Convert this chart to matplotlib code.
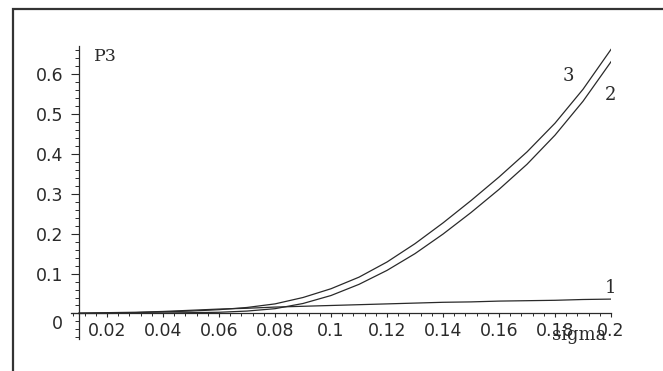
import numpy as np
import matplotlib
matplotlib.use("Agg")
from matplotlib import pyplot as plt
from matplotlib.patches import Rectangle
from matplotlib.ticker import MultipleLocator
from matplotlib.transforms import ScaledTranslation

sigma = [0.01, 0.02, 0.03, 0.04, 0.05, 0.06, 0.07, 0.08, 0.09, 0.10,
         0.11, 0.12, 0.13, 0.14, 0.15, 0.16, 0.17, 0.18, 0.19, 0.20]
p3_1 = [0.001, 0.002, 0.003, 0.005, 0.008, 0.011, 0.013, 0.016, 0.018, 0.020,
        0.022, 0.024, 0.026, 0.028, 0.029, 0.031, 0.032, 0.033, 0.035, 0.036]
p3_2 = [0.000, 0.000, 0.0005, 0.001, 0.002, 0.003, 0.006, 0.012, 0.025, 0.045,
        0.073, 0.108, 0.150, 0.199, 0.253, 0.311, 0.374, 0.447, 0.532, 0.631]
p3_3 = [0.000, 0.001, 0.002, 0.004, 0.006, 0.0095, 0.015, 0.024, 0.040, 0.062,
        0.091, 0.129, 0.175, 0.227, 0.283, 0.342, 0.405, 0.477, 0.562, 0.662]

curve_labels = ["1", "2", "3"]
x_ticks = [0.02, 0.04, 0.06, 0.08, 0.1, 0.12, 0.14, 0.16, 0.18, 0.2]
x_tick_labels = ["0.02", "0.04", "0.06", "0.08", "0.1", "0.12", "0.14", "0.16", "0.18", "0.2"]
y_ticks = [0, 0.1, 0.2, 0.3, 0.4, 0.5, 0.6]
y_tick_labels = ["0", "0.1", "0.2", "0.3", "0.4", "0.5", "0.6"]

ink = "#2a2a2a"
serif = "DejaVu Serif"

fig = plt.figure(figsize=(6.63, 3.71), dpi=100)
fig.patch.set_facecolor("white")
# scanned page frame (only top and left edges visible)
fig.patches.append(Rectangle((0.0196, -0.05), 1.1, 0.9757 + 0.05, transform=fig.transFigure,
                             fill=False, edgecolor="#333333", linewidth=1.6))

ax = fig.add_axes([0.1065, 0.0852, 0.8151, 0.7903])
ax.set_facecolor("none")

for y in (p3_1, p3_2, p3_3):
    ax.plot(sigma, y, color=ink, linewidth=0.9)

ax.set_xlim(0.007, 0.2)
ax.set_ylim(-0.065, 0.67)

ax.spines["left"].set_position(("data", 0.01))
ax.spines["bottom"].set_position(("data", 0))
ax.spines["top"].set_visible(False)
ax.spines["right"].set_visible(False)
for s in ("left", "bottom"):
    ax.spines[s].set_color(ink)
    ax.spines[s].set_linewidth(0.9)

ax.set_xticks(x_ticks)
ax.set_xticklabels(x_tick_labels)
ax.set_yticks(y_ticks)
ax.set_yticklabels(y_tick_labels)
ax.xaxis.set_minor_locator(MultipleLocator(0.004))
ax.yaxis.set_minor_locator(MultipleLocator(0.02))

ax.tick_params(axis="x", which="major", direction="out", length=3, width=0.8,
               pad=3, labelsize=12.5, colors=ink)
ax.tick_params(axis="x", which="minor", direction="out", length=2, width=0.7, colors=ink)
ax.tick_params(axis="y", which="major", direction="out", length=5.8, width=0.8,
               pad=5.5, labelsize=12.5, colors=ink)
ax.tick_params(axis="y", which="minor", direction="out", length=3, width=0.7, colors=ink)

# Maple nudges the "0" label below the horizontal axis
zero_lbl = ax.get_yticklabels()[0]
zero_lbl.set_transform(zero_lbl.get_transform() + ScaledTranslation(0, -6.5 / 72, fig.dpi_scale_trans))

ax.text(0.0195, 0.645, "P3", family=serif, fontsize=12.5, color=ink, ha="center", va="center")
ax.text(0.1886, -0.053, "sigma", family=serif, fontsize=13, color=ink, ha="center", va="center")

label_pos = [(0.1998, 0.065), (0.1998, 0.5476), (0.1846, 0.5965)]
for lab, (lx, ly) in zip(curve_labels, label_pos):
    ax.text(lx, ly, lab, family=serif, fontsize=13, color=ink, ha="center", va="center")

fig.savefig("out.png", dpi=100, facecolor="white")
